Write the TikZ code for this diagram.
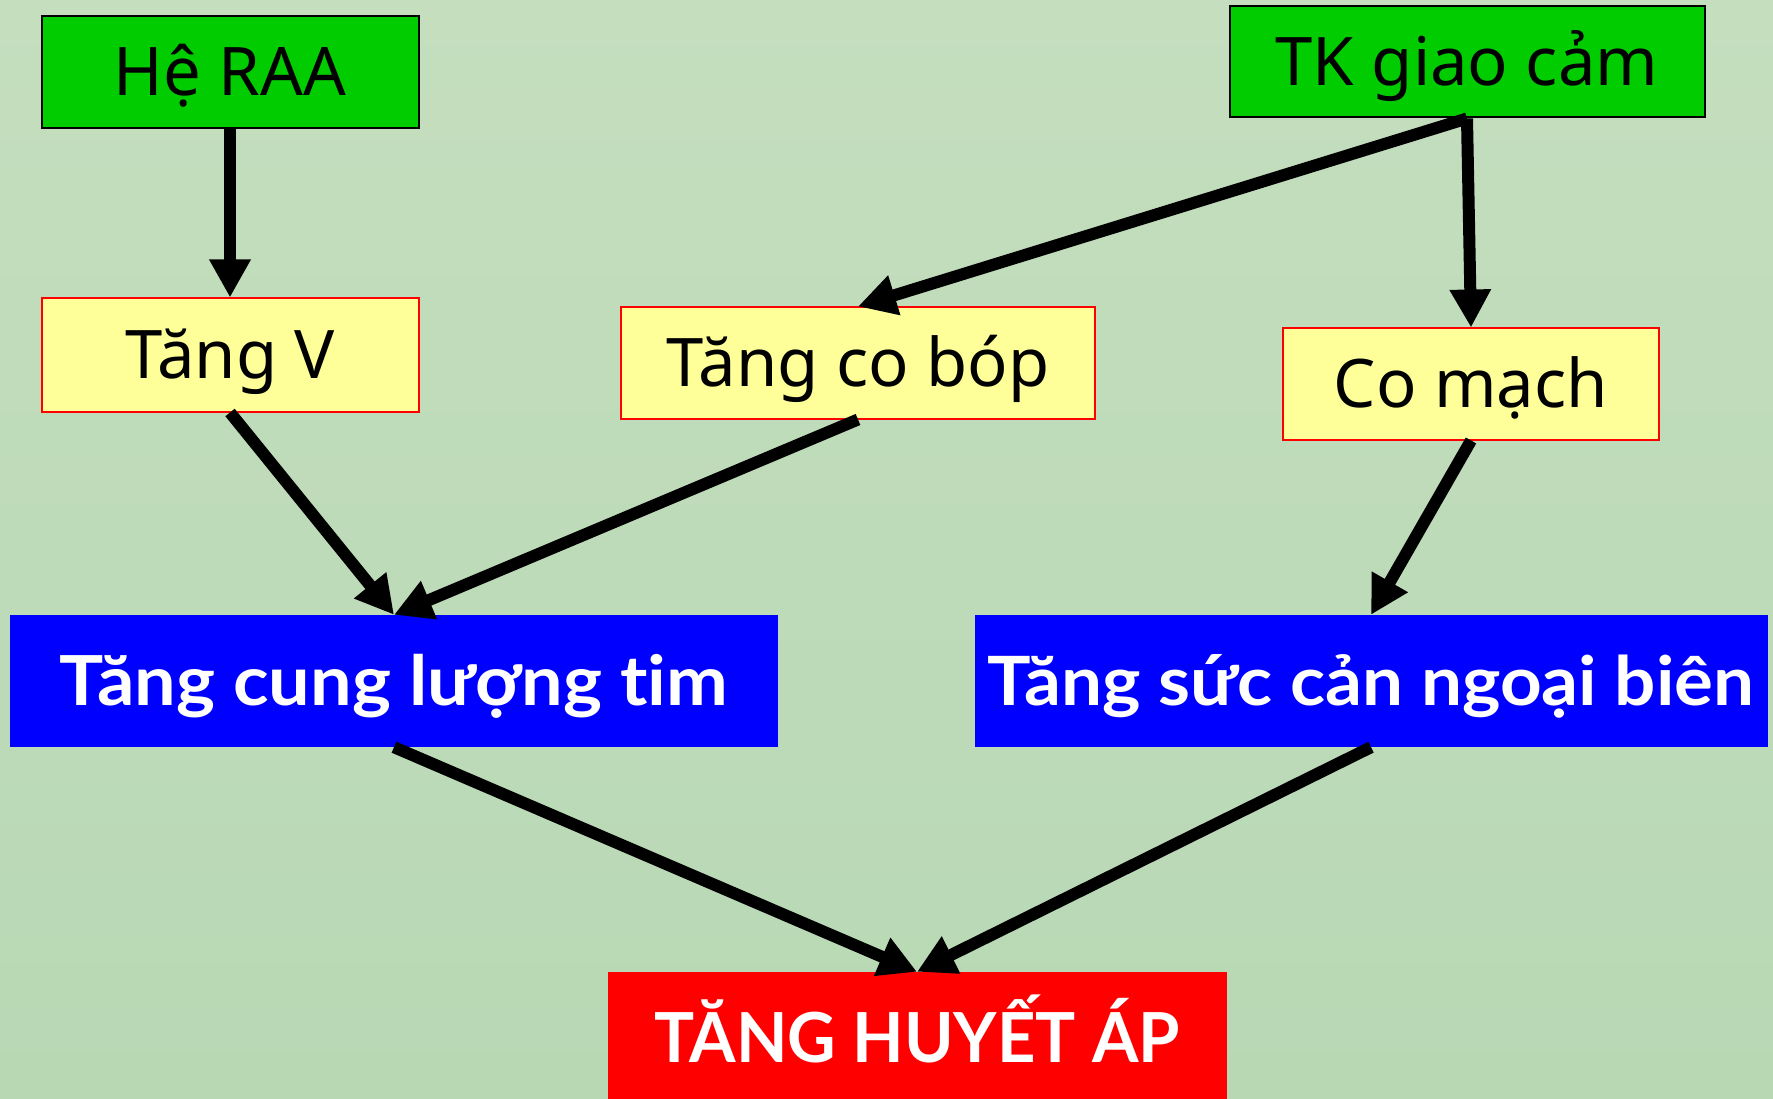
\documentclass[tikz,border=0pt]{standalone}
\usepackage{fontspec}
\setmainfont{Noto Sans}
\newfontfamily\latofam{Lato}[FakeStretch=1.07, Ligatures={NoCommon}]
\newfontfamily\latocond{Lato}[FakeStretch=0.97, Ligatures={NoCommon}]
\usetikzlibrary{arrows.meta}
\definecolor{bgB}{RGB}{196,222,190}
\definecolor{bgC}{RGB}{184,216,180}
\definecolor{gbox}{RGB}{0,204,0}
\definecolor{ybox}{RGB}{255,255,153}
\definecolor{rline}{RGB}{255,0,0}
\definecolor{bbox}{RGB}{0,0,255}
\definecolor{rbox}{RGB}{255,0,0}
\tikzset{
  src/.style={draw=black, line width=2pt, fill=gbox, inner sep=0pt,
    text height=47pt, text depth=0pt, font=\fontsize{67}{70}\selectfont},
  mid/.style={draw=rline, line width=2pt, fill=ybox, inner sep=0pt,
    text height=47pt, text depth=0pt, font=\fontsize{67}{70}\selectfont},
  eff/.style={fill=bbox, inner sep=0pt, text=white,
    text height=49pt, text depth=0pt},
  res/.style={fill=rbox, inner sep=0pt, text=white,
    text height=49pt, text depth=0pt},
  arr/.style={line width=12pt, -{Triangle[length=38pt,width=39pt]}}
}
\begin{document}
\begin{tikzpicture}[x=1pt,y=-1pt]
\useasboundingbox (0,0) rectangle (1773,1099);
\clip (0,0) rectangle (1773,1099);
\shade[top color=bgB, bottom color=bgC] (0,0) rectangle (1773,1099);

\node[src, minimum width=377pt, minimum height=112pt] (raa) at (230,72) {Hệ RAA};
\node[src, minimum width=475pt, minimum height=111pt] (tk) at (1467,62) {TK giao cảm};
\node[mid, minimum width=377pt, minimum height=113pt] (v) at (230,355) {Tăng V};
\node[mid, minimum width=474pt, minimum height=111pt] (cb) at (858,363) {Tăng co bóp};
\node[mid, minimum width=376pt, minimum height=111pt] (cm) at (1471,384) {Co mạch};
\node[eff, minimum width=768pt, minimum height=132pt,
  font=\latofam\bfseries\fontsize{69}{72}\selectfont] (clt) at (394,681) {Tăng cung lượng tim};
\node[eff, minimum width=793pt, minimum height=132pt,
  font=\latofam\bfseries\fontsize{68}{72}\selectfont] (sc) at (1371,681) {Tăng sức cản ngoại biên};
\node[res, minimum width=619pt, minimum height=132pt,
  font=\latocond\bfseries\fontsize{69}{72}\selectfont] (tha) at (917,1038) {TĂNG HUYẾT ÁP};

\draw[arr] (raa.south) -- (v.north);
\draw[arr] (tk.south) -- (cm.north);
\draw[arr] (tk.south) -- (cb.north);
\draw[arr] (v.south) -- (clt.north);
\draw[arr] (cb.south) -- (clt.north);
\draw[arr] (cm.south) -- (sc.north);
\draw[arr] (clt.south) -- (tha.north);
\draw[arr] (sc.south) -- (tha.north);
\end{tikzpicture}
\end{document}
